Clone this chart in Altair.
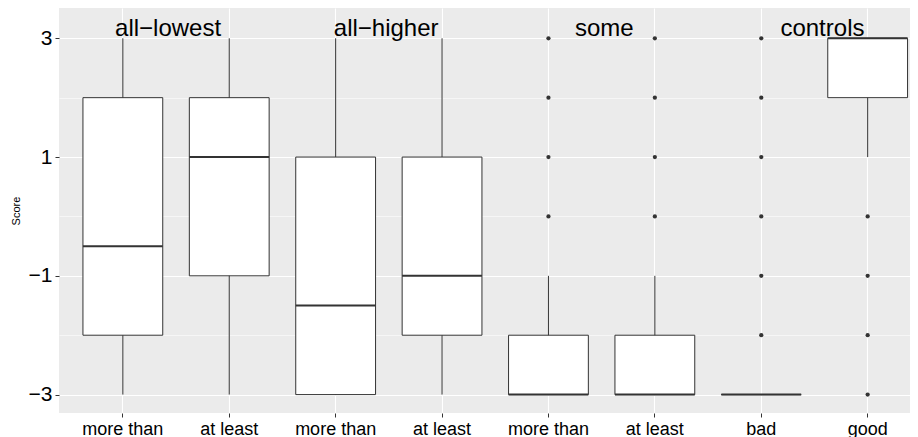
import json
import altair as alt
import pandas as pd

# ---- data ----
category_ids = ["lowest_more", "lowest_least", "higher_more", "higher_least",
                "some_more", "some_least", "ctrl_bad", "ctrl_good"]
tick_labels = ["more than", "at least", "more than", "at least",
               "more than", "at least", "bad", "good"]
group_labels = ["all−lowest", "all−higher", "some", "controls"]
group_label_y = 3.2

whisker_low = [-3, -3, -3, -3, -3, -3, -3, 1]
q1 = [-2, -1, -3, -2, -3, -3, -3, 2]
median = [-0.5, 1, -1.5, -1, -3, -3, -3, 3]
q3 = [2, 2, 1, 1, -2, -2, -3, 3]
whisker_high = [3, 3, 3, 3, -1, -1, -3, 3]

outlier_category = (["some_more"] * 4 + ["some_least"] * 4
                    + ["ctrl_bad"] * 6 + ["ctrl_good"] * 4)
outlier_score = [0, 1, 2, 3,
                 0, 1, 2, 3,
                 -2, -1, 0, 1, 2, 3,
                 -3, -2, -1, 0]

major_ticks = [-3, -1, 1, 3]
minor_ticks = [-2, 0, 2]
y_domain = [-3.31, 3.51]

# ---- tables ----
boxes = pd.DataFrame({"cat": category_ids, "lo": whisker_low, "q1": q1,
                      "med": median, "q3": q3, "hi": whisker_high})
outliers = pd.DataFrame({"cat": outlier_category, "score": outlier_score})
groups = pd.DataFrame({"group": group_labels, "y": [group_label_y] * len(group_labels)})

PLOT_W, PLOT_H = 851, 405
FULL_RANGE = 872.5  # the reference panel is cut off at the right edge
DARK = "#333333"
FONT = "Liberation Sans"

label_expr = "{}[indexof({}, datum.value)]".format(json.dumps(tick_labels), json.dumps(category_ids))
is_minor = "indexof({}, datum.value) >= 0".format(json.dumps(minor_ticks))

xs = alt.Scale(domain=category_ids, paddingInner=0, paddingOuter=0.1, range=[0, FULL_RANGE])
ys = alt.Scale(domain=y_domain, nice=False, zero=False)

x_enc = alt.X("cat:N", scale=xs, axis=alt.Axis(
    title=None, labelExpr=label_expr, labelAngle=0, domain=False,
    tickColor=DARK, tickSize=4, tickWidth=1,
    labelFontSize=18, labelColor="black", labelFont=FONT, labelPadding=3,
    grid=True, gridColor="white", gridWidth=1.1))

y_axis = alt.Axis(
    values=sorted(major_ticks + minor_ticks), title="Score",
    labelExpr="{} ? '' : datum.label".format(is_minor),
    domain=False, tickColor=DARK, tickSize=4, tickWidth=1,
    tickOpacity={"condition": {"test": is_minor, "value": 0}, "value": 1},
    labelFontSize=21, labelColor="black", labelFont=FONT, labelPadding=3,
    titleFont=FONT, titleFontSize=11, titleFontWeight="normal", titleColor="black",
    titlePadding=7,
    grid=True, gridColor="white",
    gridWidth={"condition": {"test": is_minor, "value": 0.55}, "value": 1.1})

base = alt.Chart(boxes)

whiskers = base.mark_rule(color=DARK, strokeWidth=1).encode(
    x=x_enc, y=alt.Y("lo:Q", scale=ys, axis=y_axis), y2="hi:Q")

box = base.mark_bar(fill="white", stroke=DARK, strokeWidth=1,
                    width={"band": 0.75}).encode(
    x=x_enc, y=alt.Y("q1:Q", scale=ys, axis=y_axis), y2="q3:Q")

med = base.mark_bar(fillOpacity=0, stroke=DARK, strokeWidth=2,
                    width={"band": 0.75}).encode(
    x=x_enc, y=alt.Y("med:Q", scale=ys, axis=y_axis), y2="med:Q")

pts = alt.Chart(outliers).mark_circle(size=18, color=DARK, opacity=1).encode(
    x=x_enc, y=alt.Y("score:Q", scale=ys, axis=y_axis))

main = alt.layer(whiskers, box, med, pts)

text = alt.Chart(groups).mark_text(fontSize=24, font=FONT, color="black",
                                   baseline="middle", dy=3).encode(
    x=alt.X("group:N", scale=alt.Scale(domain=group_labels, paddingInner=0,
                                       paddingOuter=0.05, range=[0, FULL_RANGE]),
            axis=None),
    y=alt.Y("y:Q", scale=ys, axis=y_axis),
    text="group:N")

chart = alt.layer(main, text).resolve_scale(x="independent").properties(
    width=PLOT_W, height=PLOT_H,
    autosize=alt.AutoSizeParams(type="none"),
    padding={"left": 51, "top": 0, "right": 0, "bottom": 24},
    background="white",
).configure_view(fill="#EBEBEB", stroke=None)

chart.save("out.html", embed_options={"renderer": "svg", "actions": False})
